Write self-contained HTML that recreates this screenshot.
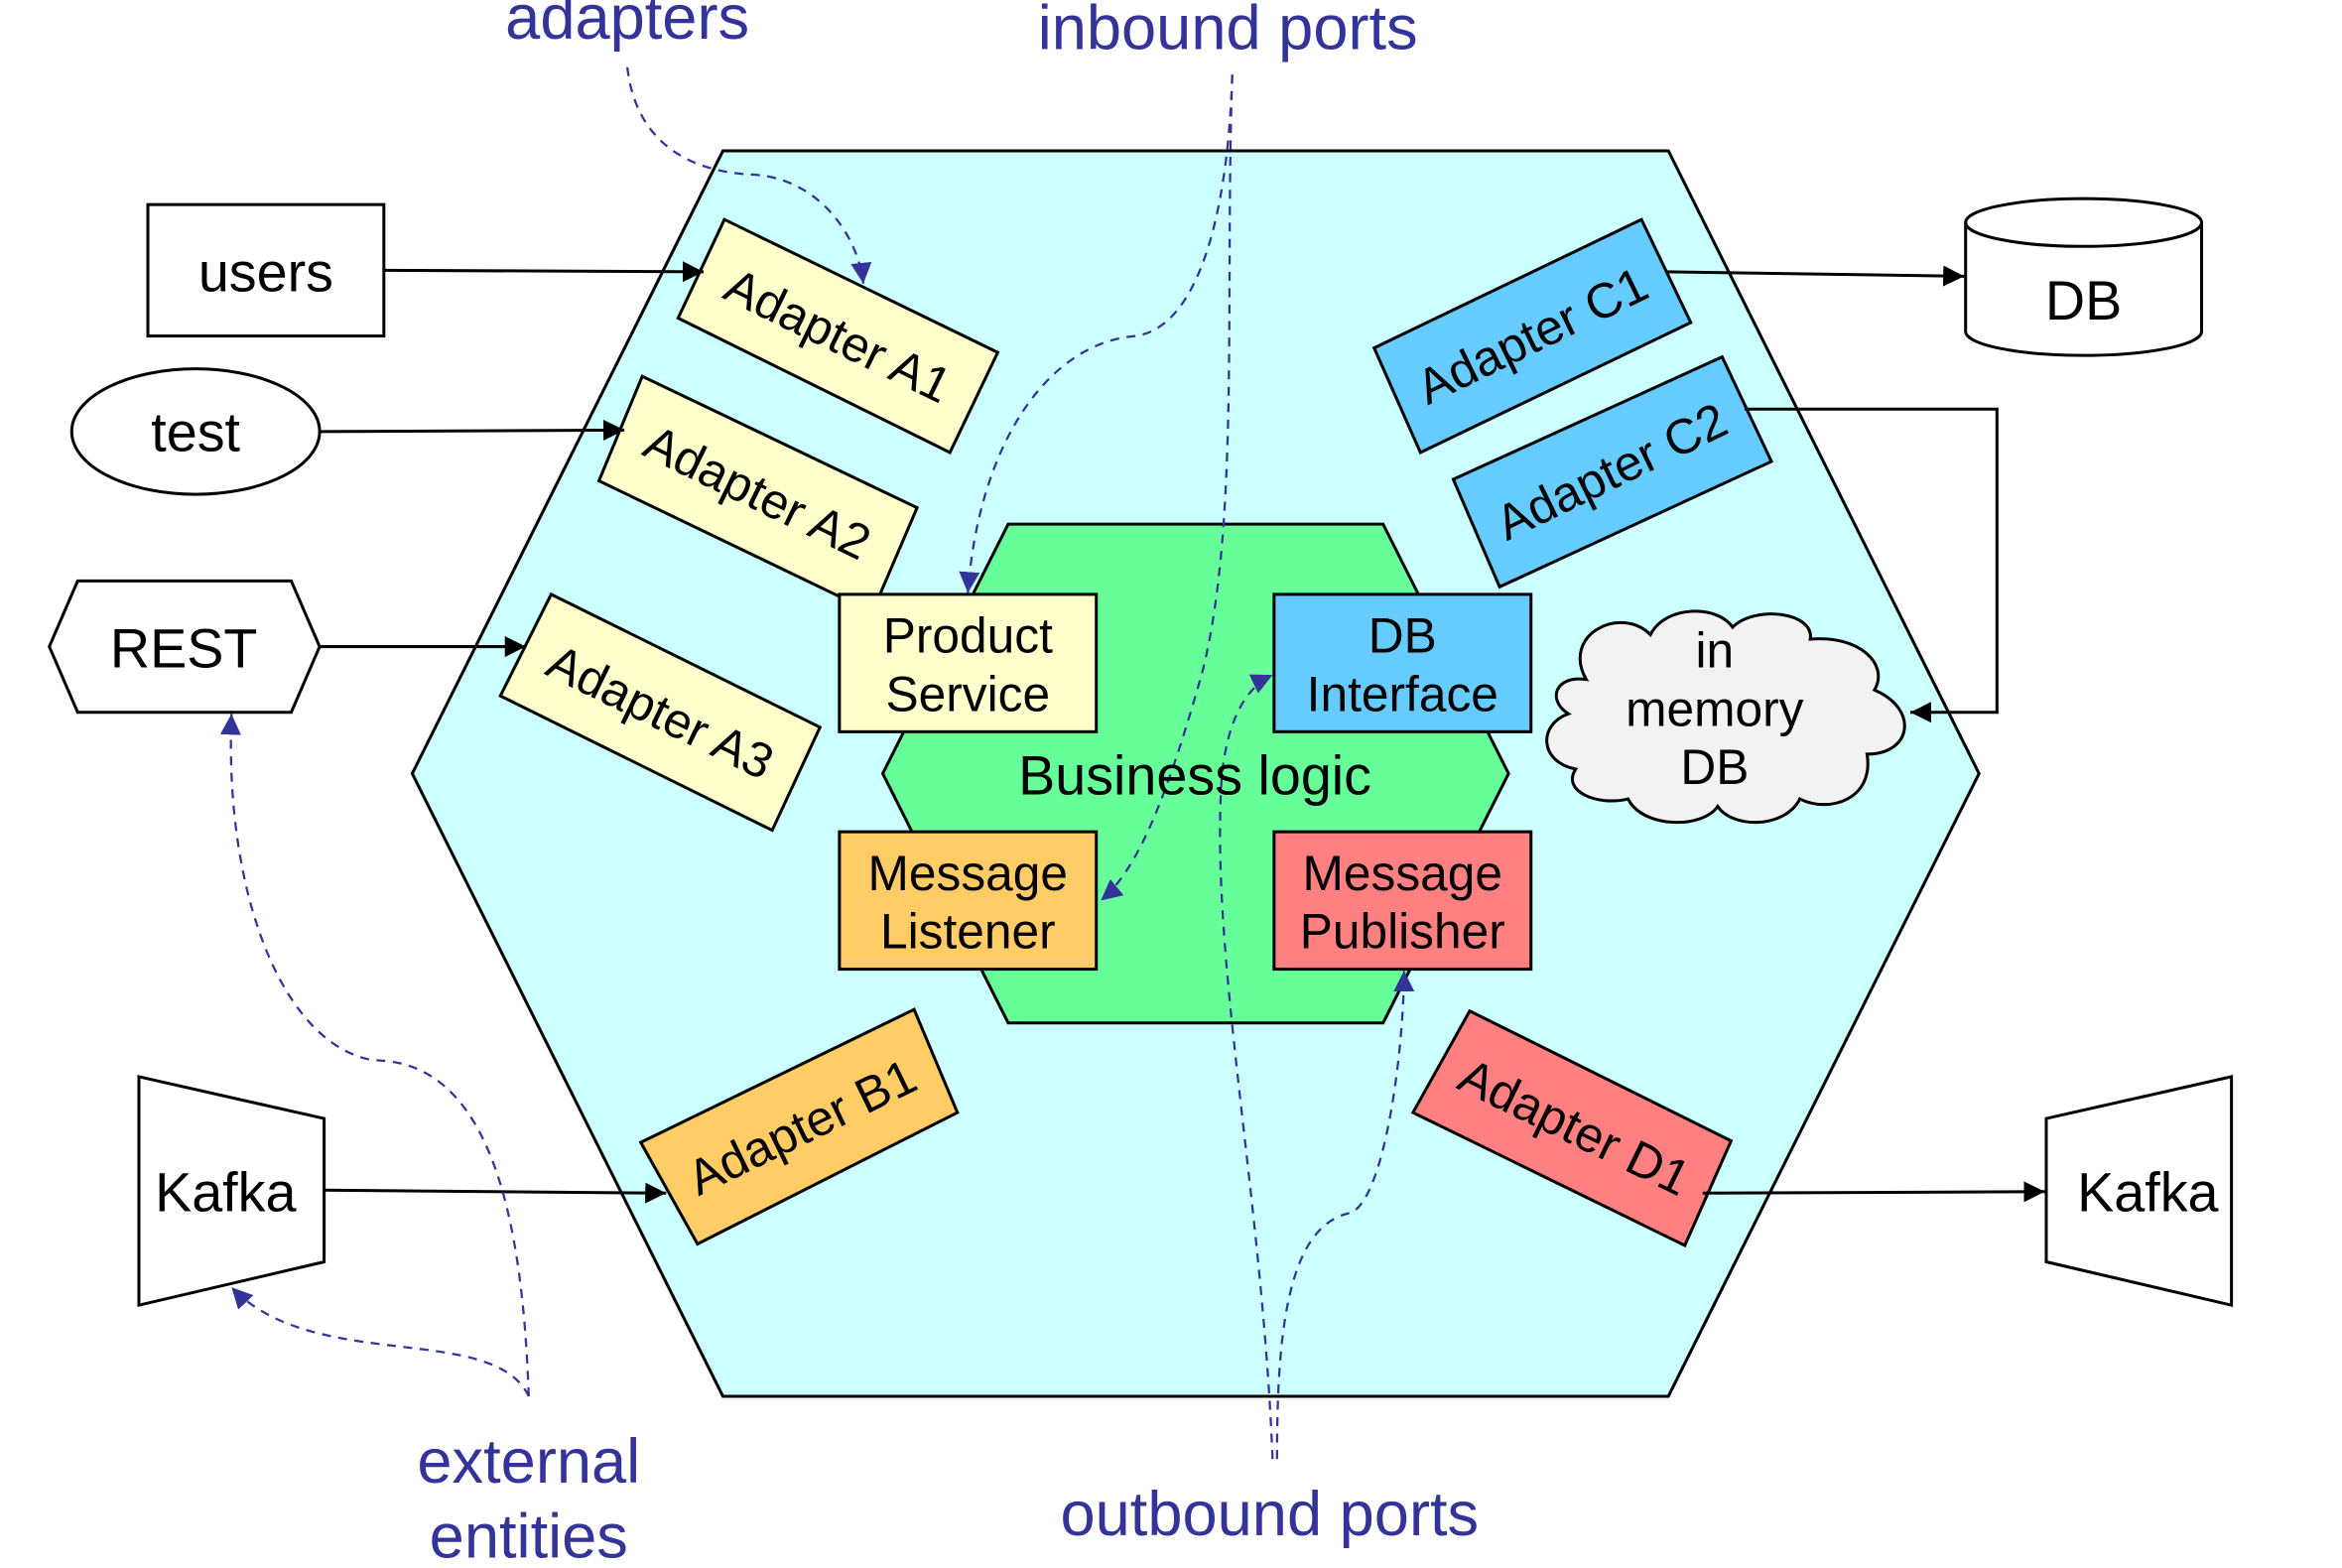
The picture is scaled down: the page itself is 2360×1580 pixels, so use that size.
<!DOCTYPE html>
<html><head><meta charset="utf-8"><style>
html,body{margin:0;padding:0;background:#fff;}
svg{display:block;}
text{font-family:"Liberation Sans",Arial,sans-serif;}
</style></head><body>
<svg width="2360" height="1580" viewBox="0 0 1568 1050" preserveAspectRatio="none" xmlns="http://www.w3.org/2000/svg">
<defs>
<marker id="ab" viewBox="0 0 10 10" refX="10" refY="5" markerWidth="14" markerHeight="14" markerUnits="userSpaceOnUse" orient="auto"><path d="M0,0L10,5L0,10z" fill="#000"/></marker>
<marker id="au" viewBox="0 0 10 10" refX="10" refY="5" markerWidth="14" markerHeight="14" markerUnits="userSpaceOnUse" orient="auto"><path d="M0,0L10,5L0,10z" fill="#333399"/></marker>
</defs>
<g stroke="#000" stroke-width="2">
<polygon points="484,101 1117,101 1325,518 1117,935 484,935 276,518" fill="#ccffff"/>
<polygon points="675,351 926,351 1010,518 926,685 675,685 591,518" fill="#66ff99"/>
<polygon points="485,147 668,236 636,303 454,213" fill="#ffffcc"/>
<polygon points="430,252 614,340 584,410 401,322" fill="#ffffcc"/>
<polygon points="369,398 549,487 517,556 335,466" fill="#ffffcc"/>
<polygon points="429,765 612,676 641,745 467,833" fill="#ffcc66"/>
<polygon points="920,233 1099,147 1132,216 951,303" fill="#66ccff"/>
<polygon points="973,321 1153,239 1186,309 1004,393" fill="#66ccff"/>
<polygon points="984,677 1159,764 1128,834 946,745" fill="#ff8080"/>
<rect x="562" y="398" width="172" height="92" fill="#ffffcc"/>
<rect x="853" y="398" width="172" height="92" fill="#66ccff"/>
<rect x="562" y="557" width="172" height="92" fill="#ffcc66"/>
<rect x="853" y="557" width="172" height="92" fill="#ff8080"/>
<rect x="99" y="137" width="158" height="88" fill="#fff"/>
<ellipse cx="131" cy="289" rx="83" ry="42" fill="#fff"/>
<polygon points="33,433 52,389 195,389 214,433 195,477 52,477" fill="#fff"/>
<polygon points="93,721 217,749 217,845 93,874" fill="#fff"/>
<polygon points="1370,749 1494,721 1494,874 1370,845" fill="#fff"/>
<path d="M1316,149 L1316,222 A79,16 0 0 0 1474,222 L1474,149 A79,16 0 0 0 1316,149 A79,16 0 0 0 1474,149" fill="#fff"/>
<path d="M1062,455 C1045,425 1085,405 1105,425 C1115,405 1150,405 1160,420 C1175,405 1215,410 1212,428 C1245,425 1265,445 1255,462 C1285,475 1280,505 1250,505 C1255,535 1225,545 1205,535 C1195,555 1160,555 1150,540 C1140,555 1100,555 1090,535 C1070,540 1045,530 1055,515 C1030,510 1030,485 1050,478 C1035,468 1042,452 1062,455 Z" fill="#f2f2f2"/>
</g>
<g stroke="#000" stroke-width="2" fill="none" marker-end="url(#ab)">
<path d="M257,181 L471,182"/>
<path d="M214,289 L418,288"/>
<path d="M214,433 L352,433"/>
<path d="M217,797 L446,799"/>
<path d="M1115,182 L1315,185"/>
<path d="M1168,274 L1337,274 L1337,477 L1279,477"/>
<path d="M1140,799 L1369,798"/>
</g>
<g stroke="#333399" stroke-width="1.5" stroke-dasharray="6,5" fill="none" marker-end="url(#au)">
<path d="M420,45 C425,90 455,115 505,117 C550,120 575,160 578,190"/>
<path d="M825,50 C822,150 800,220 760,225 C700,230 655,300 648,397"/>
<path d="M825,50 C820,200 830,350 805,450 C785,520 765,580 737,603"/>
<path d="M852,977 C845,800 810,640 818,520 C822,480 835,460 852,452"/>
<path d="M855,977 C855,900 860,820 905,812 C928,800 940,700 940,650"/>
<path d="M354,935 C350,820 330,710 250,710 C190,700 150,600 155,478"/>
<path d="M354,935 C330,885 210,920 155,862"/>
</g>
<g font-size="33" text-anchor="middle" fill="#000">
<text x="561" y="236" transform="rotate(26 561 225)">Adapter A1</text>
<text x="507" y="341" transform="rotate(26 507 330)">Adapter A2</text>
<text x="442" y="488" transform="rotate(26 442 477)">Adapter A3</text>
<text x="537" y="766" transform="rotate(-26 537 755)">Adapter B1</text>
<text x="1026" y="236" transform="rotate(-26 1026 225)">Adapter C1</text>
<text x="1079" y="327" transform="rotate(-26 1079 316)">Adapter C2</text>
<text x="1054" y="766" transform="rotate(26 1054 755)">Adapter D1</text>
<text x="648" y="437">Product</text><text x="648" y="476">Service</text>
<text x="939" y="437">DB</text><text x="939" y="476">Interface</text>
<text x="648" y="596">Message</text><text x="648" y="635">Listener</text>
<text x="939" y="596">Message</text><text x="939" y="635">Publisher</text>
<text x="800" y="532" font-size="37">Business logic</text>
<text x="1148" y="447">in</text><text x="1148" y="486">memory</text><text x="1148" y="525">DB</text>
</g>
<g font-size="37" text-anchor="middle" fill="#000">
<text x="178" y="195">users</text>
<text x="131" y="302">test</text>
<text x="123" y="447">REST</text>
<text x="151" y="811">Kafka</text>
<text x="1438" y="811">Kafka</text>
<text x="1395" y="214">DB</text>
</g>
<g font-size="42" text-anchor="middle" fill="#333399">
<text x="420" y="26">adapters</text>
<text x="822" y="33">inbound ports</text>
<text x="354" y="993">external</text>
<text x="354" y="1043">entities</text>
<text x="850" y="1028">outbound ports</text>
</g>
</svg>
</body></html>
